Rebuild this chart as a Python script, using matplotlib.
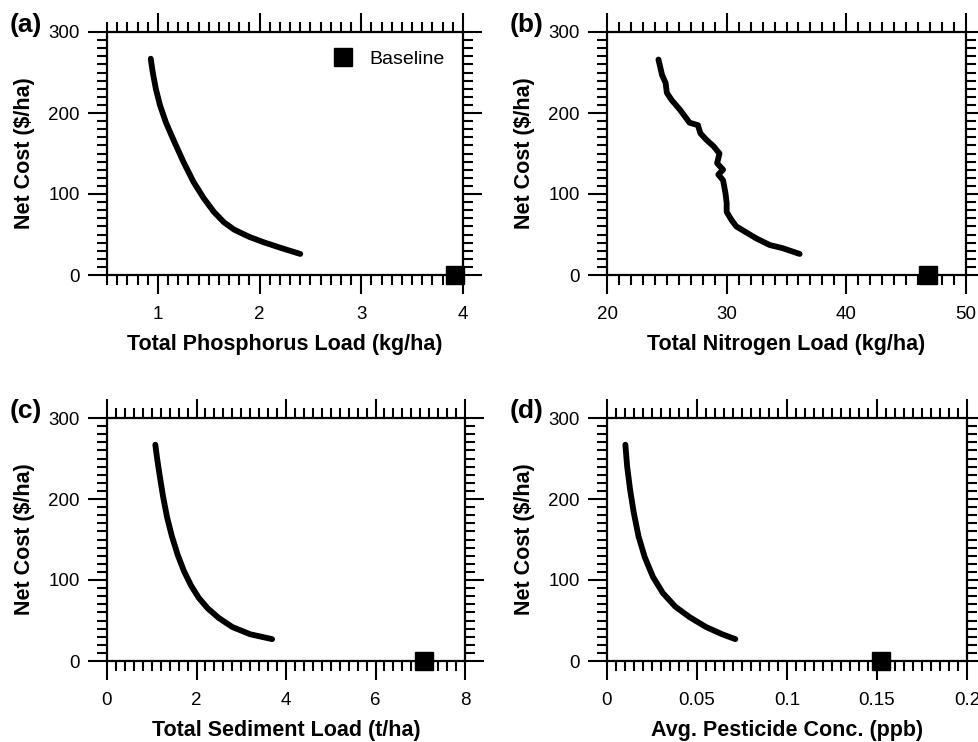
import matplotlib
matplotlib.use("Agg")
import matplotlib.pyplot as plt
from matplotlib.ticker import MultipleLocator, FixedLocator

plt.rcParams['font.family'] = ['Liberation Sans', 'DejaVu Sans']

# ---- data ----
cost_ticks = [0, 100, 200, 300]

p_load = [0.93, 0.95, 0.98, 1.02, 1.08, 1.16, 1.25, 1.35, 1.45, 1.55, 1.65, 1.75, 1.90, 2.05, 2.22, 2.40]
p_cost = [267, 250, 230, 210, 188, 165, 140, 115, 95, 78, 65, 56, 47, 40, 33, 26]
p_base = (3.92, 0)

n_load = [24.3, 24.6, 24.9, 25.0, 25.4, 26.1, 26.9, 27.6, 27.8, 28.3, 28.9, 29.4, 29.2,
          29.7, 29.3, 29.7, 29.9, 30.0, 30.0, 30.4, 30.8, 31.7, 32.5, 33.6, 34.7, 36.1]
n_cost = [266, 247, 237, 225, 216, 204, 188, 185, 175, 167, 159, 150, 138,
          130, 124, 117, 101, 89, 78, 68, 60, 52, 45, 37, 33, 26]
n_base = (46.8, 0)

s_load = [1.08, 1.12, 1.18, 1.25, 1.34, 1.45, 1.58, 1.72, 1.88, 2.05, 2.25, 2.50, 2.80, 3.20, 3.69]
s_cost = [267, 250, 228, 204, 178, 154, 131, 111, 93, 78, 65, 53, 42, 33, 27]
s_base = (7.08, 0)

c_conc = [0.0102, 0.0112, 0.0128, 0.0148, 0.0175, 0.0210, 0.0255, 0.0310, 0.0380,
          0.0460, 0.0550, 0.0640, 0.0713]
c_cost = [267, 240, 212, 184, 154, 128, 104, 84, 67, 54, 42, 33, 27]
c_base = (0.152, 0)

panels = [
    dict(tag='(a)', x=p_load, y=p_cost, base=p_base, xlim=(0.5, 4), minor=0.1,
         xt=[1, 2, 3, 4], xtl=['1', '2', '3', '4'], xlabel='Total Phosphorus Load (kg/ha)',
         pos=[107, 32, 463, 275], legend=True),
    dict(tag='(b)', x=n_load, y=n_cost, base=n_base, xlim=(20, 50), minor=1,
         xt=[20, 30, 40, 50], xtl=['20', '30', '40', '50'], xlabel='Total Nitrogen Load (kg/ha)',
         pos=[607, 32, 966, 275], legend=False),
    dict(tag='(c)', x=s_load, y=s_cost, base=s_base, xlim=(0, 8), minor=0.2,
         xt=[0, 2, 4, 6, 8], xtl=['0', '2', '4', '6', '8'], xlabel='Total Sediment Load (t/ha)',
         pos=[107, 418, 465, 661], legend=False),
    dict(tag='(d)', x=c_conc, y=c_cost, base=c_base, xlim=(0, 0.2), minor=0.005,
         xt=[0, 0.05, 0.1, 0.15, 0.2], xtl=['0', '0.05', '0.1', '0.15', '0.2'],
         xlabel='Avg. Pesticide Conc. (ppb)', pos=[607, 418, 967, 661], legend=False),
]

W, H = 979, 742
fig = plt.figure(figsize=(W / 100, H / 100), dpi=100)

for p in panels:
    l, t, r, b = p['pos']
    ax = fig.add_axes([l / W, 1 - b / H, (r - l) / W, (b - t) / H])
    ax.plot(p['x'], p['y'], color='black', lw=4.2, solid_capstyle='round',
            solid_joinstyle='round', zorder=3)
    ax.plot([p['base'][0]], [p['base'][1]], marker='s', ms=12.5, color='black',
            ls='none', clip_on=False, zorder=5, label='Baseline')
    ax.set_xlim(*p['xlim'])
    ax.set_ylim(0, 300)
    ax.xaxis.set_major_locator(FixedLocator(p['xt']))
    ax.set_xticklabels(p['xtl'])
    ax.xaxis.set_minor_locator(MultipleLocator(p['minor']))
    ax.yaxis.set_major_locator(FixedLocator(cost_ticks))
    ax.set_yticklabels([str(v) for v in cost_ticks])
    ax.yaxis.set_minor_locator(MultipleLocator(10))
    for s in ax.spines.values():
        s.set_linewidth(1.6)
    ax.tick_params(which='both', direction='out', top=True, right=True,
                   labeltop=False, labelright=False, width=1.5, labelsize=13.5)
    ax.tick_params(which='major', length=13.5)
    ax.tick_params(which='minor', length=7)
    ax.tick_params(axis='y', which='major', pad=6)
    ax.tick_params(axis='x', which='major', pad=9)
    ax.set_xlabel(p['xlabel'], fontsize=15.5, fontweight='bold', labelpad=8)
    ax.set_ylabel('Net Cost ($/ha)', fontsize=15.5, fontweight='bold', labelpad=10)
    fig.text((l - 97) / W, 1 - 25 / H - (t - 32) / H, p['tag'], fontsize=19,
             fontweight='bold', va='center', ha='left')
    if p['legend']:
        ax.legend(loc='upper right', bbox_to_anchor=(0.975, 0.965), frameon=False,
                  fontsize=14, handletextpad=0.75, borderpad=0, markerscale=1.0,
                  handlelength=1.2)

fig.savefig('out.png', dpi=100)
